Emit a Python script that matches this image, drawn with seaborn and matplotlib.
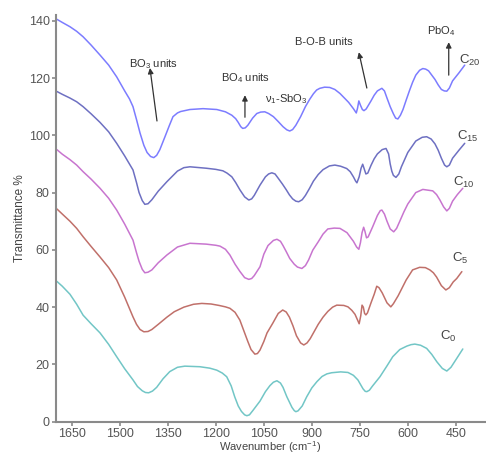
import matplotlib
matplotlib.use("Agg")
import matplotlib.pyplot as plt
import seaborn as sns
import pandas as pd

# ---------------- data ----------------
wn_c0 = [1697, 1680, 1656, 1635, 1615, 1590, 1562, 1535, 1510, 1485, 1459, 1445, 1430, 1420, 1410,
         1398, 1385, 1365, 1344, 1320, 1297, 1250, 1219, 1197, 1180, 1166, 1152, 1141, 1130, 1120,
         1110, 1103, 1095, 1085, 1062, 1045, 1031, 1020, 1009, 998, 990, 978, 962, 955, 950, 943,
         930, 916, 900, 884, 868, 853, 838, 810, 787, 770, 756, 740, 733, 728, 720, 710, 687, 665,
         647, 625, 603, 590, 578, 560, 541, 525, 509, 492, 478, 465, 447, 428]
t_c0 = [49.0, 47.3, 44.5, 41.0, 37.2, 34.2, 31.0, 27.0, 22.7, 18.5, 14.6, 12.3, 10.8, 10.2, 10.1,
        10.7, 12.0, 15.0, 17.5, 19.0, 19.4, 19.2, 18.7, 18.0, 17.0, 15.7, 12.5, 8.7, 5.5, 3.6,
        2.4, 2.1, 2.4, 3.8, 7.2, 10.5, 12.6, 13.8, 14.3, 13.5, 12.0, 8.7, 5.0, 3.9, 3.5, 3.8,
        5.5, 8.7, 11.8, 14.0, 15.8, 16.7, 17.1, 17.4, 17.2, 16.2, 14.6, 11.5, 10.6, 10.5, 11.0, 12.5, 15.7, 19.5,
        22.7, 25.2, 26.4, 26.9, 27.1, 26.7, 25.6, 23.5, 20.9, 18.6, 17.7, 19.0, 22.1, 25.4]

wn_c5 = [1697, 1680, 1656, 1635, 1615, 1590, 1562, 1535, 1510, 1485, 1459, 1448, 1437, 1425, 1412,
         1400, 1380, 1353, 1330, 1300, 1270, 1244, 1215, 1190, 1170, 1156, 1140, 1125, 1110, 1100,
         1090, 1078, 1070, 1062, 1050, 1040, 1022, 1005, 991, 980, 970, 959, 948, 935, 925, 915,
         905, 880, 865, 850, 835, 822, 800, 787, 775, 765, 757, 752, 747, 743, 739, 735, 731, 726,
         715, 705, 697, 690, 680, 665, 653, 645, 630, 605, 585, 563, 545, 531, 520, 510, 495, 481,
         470, 458, 447, 431]
t_c5 = [74.3, 72.5, 70.0, 67.5, 64.6, 61.2, 57.5, 53.8, 49.5, 43.5, 36.6, 34.0, 32.2, 31.4, 31.5,
        32.2, 34.0, 36.5, 38.4, 40.0, 41.0, 41.3, 41.1, 40.6, 40.1, 39.6, 38.2, 35.5, 31.0, 28.0,
        25.2, 23.6, 23.8, 25.0, 28.0, 31.0, 34.4, 37.8, 39.0, 38.3, 36.5, 33.5, 30.0, 27.5, 26.8, 27.5,
        29.0, 34.0, 36.5, 38.5, 40.0, 40.7, 40.6, 40.1, 38.9, 37.5, 35.5, 34.2, 37.0, 40.7, 40.0, 37.8, 37.3, 38.0,
        41.5, 44.5, 47.3, 46.8, 45.0, 41.5, 40.1, 41.2, 44.0, 49.5, 53.0, 53.9, 53.8, 53.0, 52.0, 50.5, 47.5, 46.0,
        46.8, 48.8, 50.0, 52.4]

wn_c10 = [1697, 1680, 1656, 1635, 1615, 1590, 1562, 1535, 1510, 1485, 1459, 1448, 1440, 1430, 1422,
          1412, 1400, 1380, 1353, 1320, 1281, 1230, 1200, 1187, 1170, 1156, 1140, 1125, 1110, 1097,
          1088, 1080, 1062, 1050, 1037, 1020, 1009, 998, 990, 980, 969, 955, 945, 931, 920, 910,
          897, 880, 865, 850, 830, 812, 790, 770, 760, 753, 748, 743, 738, 734, 729, 724, 710, 695,
          686, 681, 673, 665, 655, 644, 635, 625, 612, 600, 575, 553, 522, 510, 500, 488, 478, 470,
          460, 445, 428]
t_c10 = [95.0, 93.4, 91.5, 89.6, 87.3, 84.7, 81.5, 78.0, 73.9, 69.0, 63.4, 59.0, 56.0, 53.2, 52.0,
         52.2, 53.0, 55.5, 58.2, 61.0, 62.3, 62.0, 61.6, 61.3, 60.2, 58.2, 55.0, 52.5, 50.3, 49.7,
         50.0, 51.0, 54.1, 58.5, 61.5, 63.3, 63.7, 63.0, 61.5, 59.4, 57.0, 55.0, 54.0, 53.5, 54.5, 56.5,
         59.9, 62.8, 65.5, 67.3, 67.6, 67.5, 66.0, 63.0, 61.0, 60.2, 62.5, 66.0, 67.9, 66.5, 64.2, 64.5, 68.0, 72.0,
         73.7, 73.9, 72.5, 70.0, 67.3, 66.3, 67.5, 70.0, 73.3, 76.0, 80.0, 81.1, 80.6, 79.3, 77.5, 75.0, 73.6, 74.5,
         77.0, 79.3, 81.5]

wn_c15 = [1697, 1680, 1656, 1635, 1615, 1590, 1562, 1535, 1510, 1485, 1459, 1448, 1440, 1430, 1422,
          1412, 1400, 1380, 1353, 1320, 1300, 1281, 1230, 1200, 1178, 1165, 1150, 1138, 1125, 1110,
          1097, 1088, 1080, 1062, 1045, 1035, 1025, 1015, 1005, 992, 980, 970, 960, 950, 941, 930,
          920, 907, 895, 880, 865, 845, 828, 810, 791, 780, 770, 763, 759, 752, 746, 741, 736, 731,
          725, 715, 705, 695, 680, 668, 660, 655, 650, 645, 637, 628, 620, 610, 600, 575, 555, 541,
          527, 515, 505, 495, 485, 478, 470, 460, 440, 422]
t_c15 = [115.3, 114.3, 113.0, 111.7, 110.0, 107.5, 104.5, 101.2, 97.2, 92.8, 87.9, 83.5, 80.0, 77.2, 75.9,
         76.1, 77.5, 80.5, 83.8, 87.5, 88.7, 89.0, 88.5, 88.1, 87.6, 86.8, 85.5, 83.5, 81.0, 78.5,
         77.4, 77.8, 79.0, 82.6, 85.5, 86.5, 86.9, 86.5, 85.0, 83.0, 81.0, 79.2, 77.8, 77.0, 76.8, 77.5,
         79.0, 81.5, 84.0, 86.3, 88.0, 89.3, 89.6, 89.2, 88.4, 87.3, 85.5, 84.0, 83.4, 85.5, 88.5, 89.9, 88.2, 86.5,
         86.8, 89.5, 91.8, 93.5, 95.0, 95.4, 93.5, 90.0, 87.5, 86.0, 85.3, 86.5, 89.0, 91.5, 94.0, 98.0, 99.3, 99.5,
         98.7, 97.0, 94.8, 92.0, 89.6, 89.0, 89.6, 92.0, 94.8, 97.2]

wn_c20 = [1697, 1680, 1656, 1635, 1615, 1590, 1562, 1535, 1510, 1485, 1470, 1459, 1448, 1437, 1425,
          1415, 1404, 1394, 1385, 1375, 1359, 1345, 1334, 1320, 1310, 1281, 1240, 1197, 1170, 1150,
          1138, 1130, 1122, 1116, 1108, 1100, 1085, 1072, 1060, 1047, 1035, 1020, 1005, 990, 978, 969,
          960, 950, 935, 920, 907, 895, 885, 875, 860, 844, 828, 812, 798, 785, 770, 761, 757, 753,
          748, 742, 737, 730, 715, 705, 695, 681, 673, 665, 655, 645, 638, 631, 623, 615, 605, 595,
          585, 575, 563, 553, 544, 535, 525, 515, 505, 495, 486, 478, 470, 460, 440, 422]
t_c20 = [140.5, 139.4, 137.9, 136.3, 134.4, 131.5, 128.0, 124.5, 120.4, 115.5, 112.7, 110.0, 105.5, 100.8, 96.5,
         94.0, 92.6, 92.2, 93.0, 95.0, 99.5, 103.5, 106.5, 107.8, 108.3, 109.0, 109.3, 109.0, 108.2, 107.0,
         105.8, 104.5, 103.0, 102.4, 102.6, 103.5, 106.0, 107.6, 108.1, 108.2, 107.6, 106.5, 104.8, 103.0, 101.9, 101.5,
         102.0, 103.5, 106.5, 110.0, 112.5, 114.5, 115.8, 116.4, 116.8, 116.7, 116.0, 114.6, 113.0, 111.5, 109.3, 107.8, 109.5, 112.0,
         110.5, 109.0, 108.6, 109.2, 112.0, 114.0, 115.5, 116.4, 115.5, 113.0, 110.0, 107.5, 106.0, 105.7, 107.0, 109.0, 112.3, 115.5,
         118.5, 121.0, 122.7, 123.3, 123.1, 122.5, 121.0, 119.5, 117.6, 116.0, 115.5, 115.4, 116.5, 119.0, 121.8, 124.5]

series_names = ["C0", "C5", "C10", "C15", "C20"]
series_labels = ["C$_0$", "C$_5$", "C$_{10}$", "C$_{15}$", "C$_{20}$"]
x_ticks = [1650, 1500, 1350, 1200, 1050, 900, 750, 600, 450]
y_ticks = [0, 20, 40, 60, 80, 100, 120, 140]

# ---------------- style ----------------
sns.set_style("white")
plt.rcParams["font.family"] = ["Liberation Sans", "DejaVu Sans"]
plt.rcParams["mathtext.fontset"] = "custom"
plt.rcParams["mathtext.rm"] = "Liberation Sans"
plt.rcParams["mathtext.it"] = "Liberation Sans"
plt.rcParams["mathtext.default"] = "regular"

colors = {"C0": "#72C6C6", "C5": "#C0706A", "C10": "#C875CF", "C15": "#6E70C2", "C20": "#7C7CFF"}

frames = []
for name, w, t in zip(series_names,
                      [wn_c0, wn_c5, wn_c10, wn_c15, wn_c20],
                      [t_c0, t_c5, t_c10, t_c15, t_c20]):
    frames.append(pd.DataFrame({"wn": w, "T": t, "sample": name}))
df = pd.concat(frames, ignore_index=True)

fig = plt.figure(figsize=(4.86, 4.57), dpi=100)
ax = fig.add_axes([0.115, 0.0772, 0.8827, 0.890])

sns.lineplot(data=df, x="wn", y="T", hue="sample", palette=colors, estimator=None,
             sort=True, lw=1.1, legend=False, ax=ax)

ax.set_xlim(1700, 359)
ax.set_ylim(0, 142)
ax.set_xticks(x_ticks)
ax.set_yticks(y_ticks)

for s in ["top", "right"]:
    ax.spines[s].set_visible(False)
for s in ["left", "bottom"]:
    ax.spines[s].set_color("#8a8a8a")
    ax.spines[s].set_linewidth(1.5)

ax.tick_params(axis="both", which="major", direction="out", length=3, width=1.2,
               color="#8a8a8a", labelsize=9, labelcolor="#555555", pad=1.5)
ax.tick_params(axis="x", bottom=True)
ax.tick_params(axis="y", left=True)

ax.set_xlabel("Wavenumber (cm$^{-1}$)", fontsize=8, color="#444444")
ax.xaxis.set_label_coords(0.5, -0.042)
ax.xaxis.label.set_va("top")
ax.set_ylabel("Transmittance %", fontsize=8.5, color="#444444", labelpad=2)

# curve labels
label_pos = {"C20": (441, 126.0), "C15": (447, 99.7), "C10": (459, 83.7), "C5": (462, 57.1), "C0": (500, 29.6)}
for name, lab in zip(series_names, series_labels):
    x, y = label_pos[name]
    ax.text(x, y, lab, fontsize=9.5, color="#444444", ha="left", va="center")

# annotations
ann_kw = dict(fontsize=8, color="#333333", ha="center", va="center")
arrow = dict(arrowstyle="-|>", color="#333333", lw=0.9, mutation_scale=8, shrinkA=0, shrinkB=0)

ax.text(1395, 125.0, "BO$_3$ units", **ann_kw)
ax.annotate("", xy=(1406, 123.5), xytext=(1384, 105.0), arrowprops=arrow)

ax.text(1107, 120.0, "BO$_4$ units", **ann_kw)
ax.annotate("", xy=(1109, 114.0), xytext=(1109, 106.3), arrowprops=arrow)

ax.text(981, 112.5, "ν$_1$-SbO$_3$", **ann_kw)

ax.text(862, 132.5, "B-O-B units", **ann_kw)
ax.annotate("", xy=(753, 129.0), xytext=(728, 116.5), arrowprops=arrow)

ax.text(497, 136.4, "PbO$_4$", **ann_kw)
ax.annotate("", xy=(472, 132.5), xytext=(472, 121.0), arrowprops=arrow)

fig.savefig("out.png", dpi=100)
